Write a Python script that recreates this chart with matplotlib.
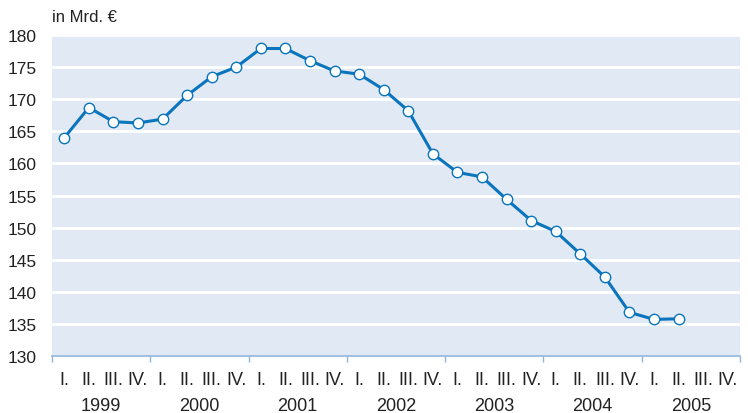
import matplotlib.pyplot as plt
import matplotlib.transforms as mtransforms

plt.rcParams['font.family'] = ['Liberation Sans', 'DejaVu Sans']

years = ['1999', '2000', '2001', '2002', '2003', '2004', '2005']
quarters = ['I.', 'II.', 'III.', 'IV.']
werte = [164.0, 168.7, 166.5, 166.3, 166.9, 170.6, 173.5, 175.0,
         177.9, 177.9, 176.0, 174.4, 173.9, 171.5, 168.2, 161.5,
         158.6, 157.9, 154.4, 151.1, 149.4, 145.9, 142.3, 136.8,
         135.7, 135.8]

blau = '#0a74bc'
hinter = '#e1e9f4'
text_c = '#222222'

fig = plt.figure(figsize=(7.48, 4.14), dpi=100)
ax = fig.add_axes([0.0695, 0.1377, 0.9198, 0.7753])
ax.set_facecolor(hinter)

x = list(range(len(werte)))
ax.plot(x, werte, color=blau, lw=2.2, marker='o', ms=7.5,
        mfc='white', mec=blau, mew=1.0, zorder=3)

ax.set_xlim(-0.5, 4 * len(years) - 0.5)
ax.set_ylim(130, 180)
ax.set_yticks(range(130, 181, 5))
ax.tick_params(axis='y', length=0, labelsize=12.5, labelcolor=text_c, pad=11)
ax.grid(axis='y', color='white', lw=2)
ax.set_axisbelow(True)

ax.set_xticks([i * 4 - 0.5 for i in range(len(years) + 1)])
ax.set_xticklabels([])
ax.tick_params(axis='x', direction='out', length=4, color='#8db5dd', width=1)

for s in ['top', 'right', 'left']:
    ax.spines[s].set_visible(False)
ax.spines['bottom'].set_color('#8db5dd')
ax.spines['bottom'].set_linewidth(1.2)

trans = mtransforms.blended_transform_factory(ax.transData, fig.transFigure)
for i, y in enumerate(years):
    for j, q in enumerate(quarters):
        ax.text(i * 4 + j, 1 - 381 / 414, q, transform=trans, ha='center', va='center',
                fontsize=13, color=text_c)
    ax.text(i * 4 + 1.5, 1 - 407 / 414, y, transform=trans, ha='center', va='center',
            fontsize=13, color=text_c)

fig.text(52 / 748, 1 - 18 / 414, 'in Mrd. €', ha='left', va='center', fontsize=12, color=text_c)

fig.savefig('out.png', dpi=100)
